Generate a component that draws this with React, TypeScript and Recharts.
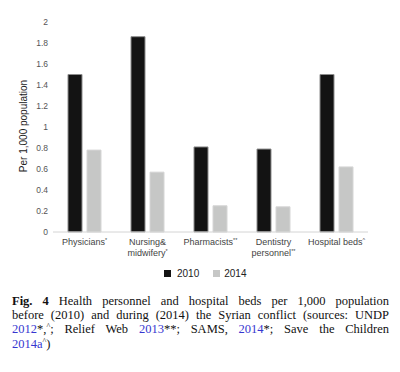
import React from 'react';
import { BarChart, Bar, XAxis, YAxis } from 'recharts';

const categories = ['Physicians*', 'Nursing&\nmidwifery*', 'Pharmacists**', 'Dentistry\npersonnel**', 'Hospital beds^'];
const values2010 = [1.5, 1.86, 0.81, 0.79, 1.5];
const values2014 = [0.78, 0.57, 0.25, 0.24, 0.62];
const yTicks = [0, 0.2, 0.4, 0.6, 0.8, 1, 1.2, 1.4, 1.6, 1.8, 2];
const seriesNames = ['2010', '2014'];

const data = categories.map((c, i) => ({ name: c, y2010: values2010[i], y2014: values2014[i] }));

const splitSuffix = (s: string) => {
  const m = s.match(/^(.*?)([*^]+)$/);
  return m ? [m[1], m[2]] : [s, ''];
};

const XTick = (props: any) => {
  const { x, y, payload } = props;
  const lines: string[] = String(payload.value).split('\n');
  return (
    <g transform={`translate(${x},${y})`}>
      <text textAnchor="middle" fontSize={9} fill="#444" fontFamily="Liberation Sans, Arial, sans-serif">
        {lines.map((l, i) => {
          const [base, suf] = splitSuffix(l);
          return (
            <tspan key={i} x={0} y={5 + i * 11}>
              {base}
              {suf ? <tspan fontSize={5.5} dy={-3}>{suf}</tspan> : null}
            </tspan>
          );
        })}
      </text>
    </g>
  );
};

const blue = '#3636d0';
const lineStyle: React.CSSProperties = {
  textAlign: 'justify',
  textAlignLast: 'justify' as any,
  whiteSpace: 'nowrap',
  height: 14.4,
};
const sup: React.CSSProperties = { fontSize: 8, verticalAlign: '4px', lineHeight: 0 };

export default function App() {
  return (
    <div style={{ position: 'relative', width: 400, height: 372, margin: -8, background: '#fff' }}>
      <BarChart
        width={400}
        height={300}
        data={data}
        margin={{ top: 22, right: 32, left: 0, bottom: 28 }}
        barSize={14}
        barGap={5}
      >
        <XAxis
          dataKey="name"
          interval={0}
          height={40}
          axisLine={{ stroke: '#d4d4d4' }}
          tickLine={false}
          tick={<XTick />}
        />
        <YAxis
          width={53}
          domain={[0, 2]}
          ticks={yTicks}
          axisLine={false}
          tickLine={false}
          tickSize={3}
          tickMargin={2}
          tick={{ fontSize: 8.5, fill: '#555', fontFamily: 'Liberation Sans, Arial, sans-serif' }}
        />
        <Bar dataKey="y2010" name={seriesNames[0]} fill="#131313" stroke="#8c8c8c" strokeWidth={1} isAnimationActive={false} />
        <Bar dataKey="y2014" name={seriesNames[1]} fill="#c6c7c6" stroke="#d6d6d6" strokeWidth={1} isAnimationActive={false} />
      </BarChart>
      <div
        style={{
          position: 'absolute',
          left: 23,
          top: 126,
          transform: 'translate(-50%,-50%) rotate(-90deg)',
          whiteSpace: 'nowrap',
          fontFamily: 'Liberation Sans, Arial, sans-serif',
          fontSize: 10,
          color: '#222',
        }}
      >
        Per 1,000 population
      </div>
      <div
        style={{
          position: 'absolute',
          left: 164,
          top: 268,
          display: 'flex',
          alignItems: 'center',
          fontFamily: 'Liberation Sans, Arial, sans-serif',
          fontSize: 10,
          color: '#222',
        }}
      >
        <span style={{ width: 7, height: 7, background: '#131313', display: 'inline-block', marginRight: 6 }} />
        <span style={{ marginRight: 14 }}>{seriesNames[0]}</span>
        <span style={{ width: 7, height: 7, background: '#c6c7c6', display: 'inline-block', marginRight: 4 }} />
        <span>{seriesNames[1]}</span>
      </div>
      <div
        style={{
          position: 'absolute',
          left: 12,
          top: 293.6,
          width: 377,
          fontFamily: 'Liberation Serif, Times New Roman, serif',
          fontSize: 12.5,
          lineHeight: '14.4px',
          color: '#111',
        }}
      >
        <div style={lineStyle}>
          <b>Fig. 4</b> Health personnel and hospital beds per 1,000 population
        </div>
        <div style={lineStyle}>before (2010) and during (2014) the Syrian conflict (sources: UNDP</div>
        <div style={lineStyle}>
          <span style={{ color: blue }}>2012</span>*,<span style={sup}>^</span>; Relief Web{' '}
          <span style={{ color: blue }}>2013</span>**; SAMS, <span style={{ color: blue }}>2014</span>*; Save the Children
        </div>
        <div style={{ whiteSpace: 'nowrap', height: 14.4 }}>
          <span style={{ color: blue }}>2014a</span>
          <span style={sup}>^</span>)
        </div>
      </div>
    </div>
  );
}
